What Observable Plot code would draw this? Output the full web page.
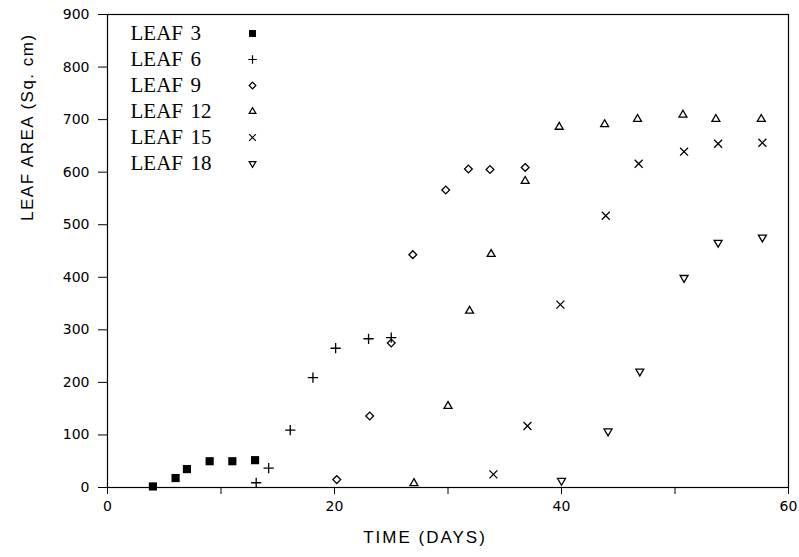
<!DOCTYPE html>
<html>
<head>
<meta charset="utf-8">
<script src="https://cdn.jsdelivr.net/npm/d3@7"></script>
<script src="https://cdn.jsdelivr.net/npm/@observablehq/plot@0.6"></script>
<style>
  html, body { margin: 0; padding: 0; background: #fff; }
  #chart { width: 799px; height: 557px; }
</style>
</head>
<body>
<div id="chart"></div>
<script>
// ---- data ----
const leafNames = ["3", "6", "9", "12", "15", "18"];

const leaf3Days = [4, 6, 7, 9, 11, 13];
const leaf3Area = [2, 18, 35, 50, 50, 52];

const leaf6Days = [13.1, 14.2, 16.1, 18.1, 20.1, 23.0, 25.0];
const leaf6Area = [9, 37, 109, 209, 265, 283, 285];

const leaf9Days = [20.2, 23.1, 25.0, 26.9, 29.8, 31.8, 33.7, 36.8];
const leaf9Area = [15, 136, 275, 443, 566, 606, 605, 609];

const leaf12Days = [27.0, 30.0, 31.9, 33.8, 36.8, 39.8, 43.8, 46.7, 50.7, 53.6, 57.6];
const leaf12Area = [8, 155, 336, 444, 583, 686, 691, 701, 709, 701, 701];

const leaf15Days = [34.0, 37.0, 39.9, 43.9, 46.8, 50.8, 53.8, 57.7];
const leaf15Area = [25, 117, 348, 517, 616, 639, 654, 656];

const leaf18Days = [40.0, 44.1, 46.9, 50.8, 53.8, 57.7];
const leaf18Area = [13, 107, 221, 399, 466, 476];

const xTicks = [0, 10, 20, 30, 40, 50, 60];
const xTickLabels = ["0", "", "20", "", "40", "", "60"];
const yTicks = [0, 100, 200, 300, 400, 500, 600, 700, 800, 900];

const xTitle = "TIME (DAYS)";
const yTitle = "LEAF AREA (Sq. cm)";

// ---- symbols ----
const triangleDown = {
  draw(context, size) {
    const s = Math.sqrt(size) * 0.6824, t = s / 2, u = s * Math.sqrt(3) / 2;
    context.moveTo(0, s);
    context.lineTo(u, -t);
    context.lineTo(-u, -t);
    context.closePath();
  }
};

const seriesStyle = [
  {symbol: "square", r: 4.6, fill: "black", stroke: "none"},
  {symbol: "plus", r: 3.4, fill: "none", stroke: "black"},
  {symbol: "diamond2", r: 3.5, fill: "none", stroke: "black"},
  {symbol: "triangle2", r: 3.8, fill: "none", stroke: "black"},
  {symbol: "times", r: 3.7, fill: "none", stroke: "black"},
  {symbol: triangleDown, r: 3.8, fill: "none", stroke: "black"}
];

const seriesDays = [leaf3Days, leaf6Days, leaf9Days, leaf12Days, leaf15Days, leaf18Days];
const seriesArea = [leaf3Area, leaf6Area, leaf9Area, leaf12Area, leaf15Area, leaf18Area];

const seriesData = seriesDays.map((days, i) =>
  days.map((d, j) => ({leaf: leafNames[i], day: d, area: seriesArea[i][j]}))
);

const dotMarks = seriesData.map((data, i) =>
  Plot.dot(data, {x: "day", y: "area", strokeWidth: 1.3, ...seriesStyle[i]})
);

// legend (inside frame, top-left)
const legendFont = {fontFamily: "Liberation Serif", fontSize: 21, fill: "black",
  textAnchor: "start", lineAnchor: "middle"};
const legendMarks = leafNames.flatMap((name, i) => [
  Plot.text(["LEAF"], {frameAnchor: "top-left", dx: 23, dy: 19 + 26 * i, text: d => d, ...legendFont}),
  Plot.text([name], {frameAnchor: "top-left", dx: 83, dy: 19 + 26 * i, text: d => d, ...legendFont}),
  Plot.dot([name], {frameAnchor: "top-left", dx: 145, dy: 19 + 26 * i,
    strokeWidth: 1.2, ...seriesStyle[i], r: seriesStyle[i].r * 0.85})
]);

const chart = Plot.plot({
  width: 799,
  height: 557,
  marginLeft: 107,
  marginRight: 11,
  marginTop: 14,
  marginBottom: 70,
  style: {fontFamily: "DejaVu Sans", background: "white", color: "black"},
  x: {domain: [0, 60]},
  y: {domain: [0, 900]},
  marks: [
    Plot.frame({stroke: "black", strokeWidth: 1.2}),
    Plot.axisX({ticks: xTicks, tickSize: 7, tickPadding: 7,
      tickFormat: d => xTickLabels[xTicks.indexOf(d)], fontSize: 14, label: null}),
    Plot.axisY({ticks: yTicks, tickSize: 9, tickPadding: 9,
      tickFormat: d => String(d), fontSize: 14, label: null}),
    Plot.text([xTitle], {frameAnchor: "bottom", dx: -23, dy: 55, text: d => d,
      fontFamily: "Liberation Sans", fontSize: 17, fill: "black",
      style: "letter-spacing: 2px"}),
    Plot.text([yTitle], {frameAnchor: "left", dx: -80, dy: -30, rotate: -90, text: d => d,
      fontFamily: "Liberation Sans", fontSize: 17, fill: "black"}),
    ...dotMarks,
    ...legendMarks
  ]
});

// letter spacing on the axis titles
chart.querySelectorAll("text").forEach(t => {
  if (t.textContent === xTitle) t.setAttribute("letter-spacing", "2");
  if (t.textContent === yTitle) t.setAttribute("letter-spacing", "1.5");
});

document.getElementById("chart").appendChild(chart);
</script>
</body>
</html>
